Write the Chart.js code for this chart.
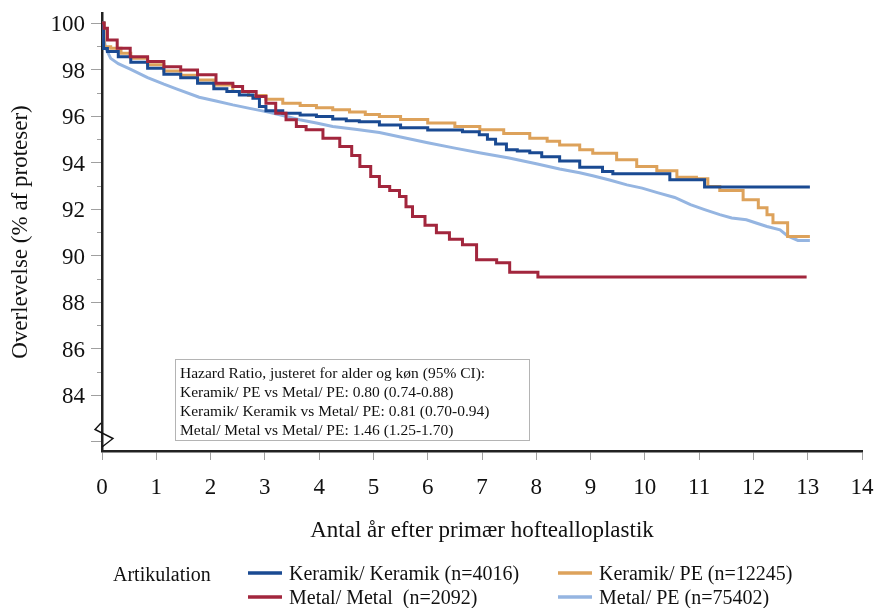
<!DOCTYPE html>
<html>
<head>
<meta charset="utf-8">
<script src="https://cdn.jsdelivr.net/npm/chart.js@4/dist/chart.umd.min.js"></script>
<style>
  html, body { margin: 0; padding: 0; background: #ffffff; }
  #wrap { width: 877px; height: 608px; }
</style>
</head>
<body>
<div id="wrap"><canvas id="km" width="877" height="608"></canvas></div>
<script>
// Kaplan-Meier survival of primary hip prostheses by articulation (years, % survival)
const kerKerYears = [0, 0.03, 0.1, 0.3, 0.53, 0.84, 1.14, 1.45, 1.76, 2.06, 2.3, 2.53, 2.78, 2.9, 3.02, 3.33, 3.65, 3.95, 4.25, 4.5, 4.74, 5.11, 5.5, 6.0, 6.64, 6.95, 7.1, 7.25, 7.45, 7.65, 7.88, 8.1, 8.43, 8.8, 9.22, 9.41, 10.46, 11.1, 13.04];
const kerKerSurv  = [100, 98.9, 98.77, 98.55, 98.31, 98.05, 97.8, 97.65, 97.41, 97.17, 97.05, 96.91, 96.77, 96.41, 96.23, 96.12, 96.05, 95.98, 95.87, 95.8, 95.76, 95.62, 95.5, 95.4, 95.33, 95.2, 95.0, 94.8, 94.55, 94.5, 94.42, 94.25, 94.07, 93.8, 93.62, 93.52, 93.26, 92.95, 92.95];

const kerPeYears = [0, 0.04, 0.16, 0.35, 0.53, 0.84, 1.14, 1.45, 1.76, 2.06, 2.41, 2.7, 3.02, 3.33, 3.65, 3.95, 4.25, 4.56, 4.85, 5.11, 5.5, 6.0, 6.5, 6.96, 7.4, 7.88, 8.2, 8.43, 8.8, 9.04, 9.48, 9.85, 10.22, 10.59, 10.95, 11.16, 11.38, 11.81, 12.09, 12.25, 12.36, 12.63, 13.04];
const kerPeSurv  = [100, 98.98, 98.91, 98.7, 98.48, 98.2, 97.94, 97.75, 97.55, 97.34, 97.05, 96.88, 96.72, 96.55, 96.45, 96.36, 96.27, 96.17, 96.07, 95.98, 95.85, 95.7, 95.55, 95.41, 95.25, 95.05, 94.92, 94.76, 94.55, 94.4, 94.12, 93.83, 93.65, 93.37, 93.3, 92.97, 92.8, 92.4, 92.06, 91.76, 91.41, 90.82, 90.82];

const metMetYears = [0, 0.04, 0.1, 0.28, 0.52, 0.84, 1.14, 1.45, 1.76, 2.1, 2.41, 2.59, 2.84, 3.02, 3.2, 3.39, 3.58, 3.76, 4.07, 4.38, 4.6, 4.75, 4.95, 5.11, 5.3, 5.48, 5.6, 5.72, 5.95, 6.16, 6.4, 6.64, 6.9, 7.27, 7.51, 8.03, 12.98];
const metMetSurv  = [100, 99.77, 99.27, 98.91, 98.55, 98.34, 98.12, 97.98, 97.77, 97.41, 97.27, 97.05, 96.84, 96.55, 96.12, 95.84, 95.55, 95.41, 95.05, 94.69, 94.3, 93.83, 93.4, 92.97, 92.8, 92.54, 92.1, 91.68, 91.3, 90.98, 90.7, 90.47, 89.82, 89.69, 89.28, 89.08, 89.08];

const metPeYears = [0, 0.02, 0.07, 0.16, 0.3, 0.53, 0.84, 1.14, 1.37, 1.79, 2.1, 2.41, 2.72, 3.02, 3.33, 3.64, 3.95, 4.25, 4.7, 5.11, 5.5, 6.0, 6.5, 6.95, 7.5, 8.0, 8.43, 8.8, 9.04, 9.35, 9.67, 9.95, 10.23, 10.55, 10.84, 11.1, 11.38, 11.6, 11.87, 12.05, 12.25, 12.49, 12.63, 12.82, 13.04];
const metPeSurv  = [100, 99.48, 98.91, 98.48, 98.25, 98.01, 97.65, 97.37, 97.17, 96.81, 96.65, 96.48, 96.33, 96.19, 96.02, 95.84, 95.7, 95.55, 95.42, 95.29, 95.1, 94.85, 94.62, 94.42, 94.2, 93.95, 93.72, 93.56, 93.43, 93.25, 93.04, 92.9, 92.71, 92.5, 92.19, 91.98, 91.76, 91.62, 91.54, 91.4, 91.25, 91.11, 90.85, 90.65, 90.65];

const seriesLabels = ['Keramik/ Keramik (n=4016)', 'Metal/ Metal  (n=2092)', 'Keramik/ PE (n=12245)', 'Metal/ PE (n=75402)'];
const seriesColors = ['#1a4a92', '#a2263d', '#dda25b', '#95b5e1'];

const yearTicks = [0, 1, 2, 3, 4, 5, 6, 7, 8, 9, 10, 11, 12, 13, 14];
const survivalTicks = [82, 84, 86, 88, 90, 92, 94, 96, 98, 100];
const survivalMinorTicks = [85, 87, 89, 91, 93, 95, 97, 99];

const xTitle = 'Antal år efter primær hoftealloplastik';
const yTitle = 'Overlevelse (% af proteser)';
const legendTitle = 'Artikulation';
const hazardLines = [
  'Hazard Ratio, justeret for alder og køn (95% CI):',
  'Keramik/ PE vs Metal/ PE: 0.80 (0.74-0.88)',
  'Keramik/ Keramik vs Metal/ PE: 0.81 (0.70-0.94)',
  'Metal/ Metal vs Metal/ PE: 1.46 (1.25-1.70)'
];

const SERIF = "'Liberation Serif', 'Times New Roman', 'DejaVu Serif', serif";
const toPoints = (xs, ys) => xs.map((x, i) => ({ x: x, y: ys[i] }));

// Axis decorations, titles, hazard-ratio box and legend
const decorations = {
  id: 'decorations',
  afterDraw(chart) {
    const ctx = chart.ctx;
    const area = chart.chartArea;
    const ys = chart.scales.y;
    ctx.save();

    // minor ticks on the survival axis
    ctx.strokeStyle = '#a0a0a0';
    ctx.lineWidth = 1;
    survivalMinorTicks.forEach(v => {
      const py = Math.round(ys.getPixelForValue(v)) + 0.5;
      ctx.beginPath();
      ctx.moveTo(area.left - 5, py);
      ctx.lineTo(area.left - 1, py);
      ctx.stroke();
    });

    // axis break mark
    ctx.strokeStyle = '#111111';
    ctx.lineWidth = 1.4;
    ctx.beginPath();
    ctx.moveTo(area.left - 1, 423);
    ctx.lineTo(area.left - 7, 429.5);
    ctx.lineTo(area.left + 11, 438.5);
    ctx.lineTo(area.left, 447);
    ctx.stroke();

    // axis titles
    ctx.fillStyle = '#111111';
    ctx.font = '23px ' + SERIF;
    ctx.textAlign = 'center';
    ctx.textBaseline = 'middle';
    ctx.fillText(xTitle, (area.left + area.right) / 2, 531);
    ctx.save();
    ctx.translate(21, (area.top + area.bottom) / 2);
    ctx.rotate(-Math.PI / 2);
    ctx.fillText(yTitle, 0, 0);
    ctx.restore();

    // hazard ratio box
    ctx.strokeStyle = '#b4b4b4';
    ctx.lineWidth = 1;
    ctx.fillStyle = '#ffffff';
    ctx.fillRect(175.5, 359.5, 354, 81);
    ctx.strokeRect(175.5, 359.5, 354, 81);
    ctx.fillStyle = '#111111';
    ctx.font = '15.5px ' + SERIF;
    ctx.textAlign = 'left';
    ctx.textBaseline = 'middle';
    hazardLines.forEach((t, i) => ctx.fillText(t, 180, 374 + i * 19));

    // legend
    ctx.font = '20px ' + SERIF;
    ctx.fillText(legendTitle, 113, 576);
    const cols = [248, 558];
    const rows = [573, 597];
    chart.data.datasets.forEach((ds, i) => {
      const lx = cols[Math.floor(i / 2)];
      const ly = rows[i % 2];
      ctx.strokeStyle = ds.borderColor;
      ctx.lineWidth = 3.5;
      ctx.beginPath();
      ctx.moveTo(lx, ly);
      ctx.lineTo(lx + 34, ly);
      ctx.stroke();
      ctx.fillStyle = '#111111';
      ctx.fillText(ds.label, lx + 41, ly + 2);
    });

    ctx.restore();
  }
};

new Chart(document.getElementById('km'), {
  type: 'line',
  data: {
    datasets: [
      { label: seriesLabels[0], data: toPoints(kerKerYears, kerKerSurv), borderColor: seriesColors[0], stepped: 'before', order: 1 },
      { label: seriesLabels[1], data: toPoints(metMetYears, metMetSurv), borderColor: seriesColors[1], stepped: 'before', order: 0 },
      { label: seriesLabels[2], data: toPoints(kerPeYears, kerPeSurv), borderColor: seriesColors[2], stepped: 'before', order: 2 },
      { label: seriesLabels[3], data: toPoints(metPeYears, metPeSurv), borderColor: seriesColors[3], stepped: false, order: 3 }
    ]
  },
  options: {
    responsive: false,
    animation: false,
    devicePixelRatio: 1,
    elements: {
      point: { radius: 0, hoverRadius: 0 },
      line: { borderWidth: 3, tension: 0, fill: false, borderJoinStyle: 'miter', borderCapStyle: 'butt' }
    },
    layout: { padding: { top: 13, right: 15, bottom: 0, left: 0 } },
    plugins: { legend: { display: false }, tooltip: { enabled: false } },
    scales: {
      x: {
        type: 'linear',
        min: 0,
        max: 14,
        afterBuildTicks: s => { s.ticks = yearTicks.map(v => ({ value: v })); },
        afterFit: s => { s.height = 157; s.paddingLeft = 0; s.paddingRight = 0; },
        ticks: { font: { family: SERIF, size: 23 }, color: '#111111', padding: 14, maxRotation: 0, autoSkip: false },
        grid: { drawOnChartArea: false, drawTicks: true, tickLength: 9, color: '#a0a0a0', lineWidth: 1 },
        border: { display: true, color: '#222222', width: 2.5 }
      },
      y: {
        type: 'linear',
        min: 81.6,
        max: 100.43,
        afterBuildTicks: s => { s.ticks = survivalTicks.map(v => ({ value: v })); },
        afterFit: s => { s.width = 102; s.paddingTop = 0; s.paddingBottom = 0; },
        ticks: {
          font: { family: SERIF, size: 23 },
          color: '#111111',
          padding: 6,
          labelOffset: 2,
          autoSkip: false,
          callback: v => (v < 84 ? '' : String(v))
        },
        grid: { drawOnChartArea: false, drawTicks: true, tickLength: 11, color: '#a0a0a0', lineWidth: 1 },
        border: { display: true, color: '#222222', width: 2.5 }
      }
    }
  },
  plugins: [decorations]
});
</script>
</body>
</html>
